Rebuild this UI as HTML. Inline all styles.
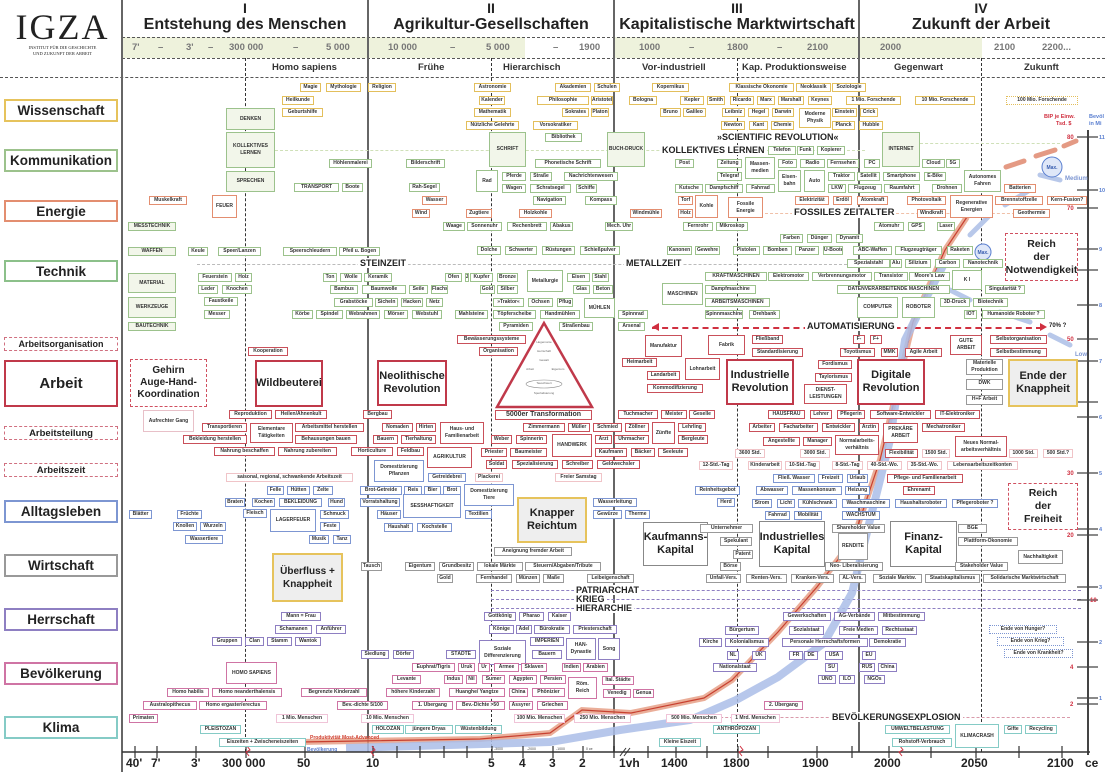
<!DOCTYPE html>
<html><head><meta charset="utf-8"><style>
*{margin:0;padding:0;box-sizing:border-box}
body{width:1105px;height:772px;position:relative;background:#fff;font-family:"Liberation Sans",sans-serif;overflow:hidden;color:#222}
.a{position:absolute}
.b{position:absolute;height:9px;line-height:7px;font-size:5px;font-weight:bold;border:1px solid #999;background:#fff;text-align:center;white-space:nowrap;overflow:hidden;color:#333}
.m{height:auto;line-height:7px;display:flex;align-items:center;justify-content:center;white-space:normal}
.y{border-color:#e3bf5c}.g{border-color:#9cc28c}.o{border-color:#e38e70}.r{border-color:#c9505a}.u{border-color:#7d96d2}.k{border-color:#999}.p{border-color:#8e7fc2}.n{border-color:#cf74a4}.t{border-color:#85cbc6}
.G{background:#f2f6ea}
.L{position:absolute;left:4px;width:114px;border:2px solid;text-align:center;font-weight:bold;font-size:13.5px;background:#fff;display:flex;align-items:center;justify-content:center}
.B{position:absolute;border:2.5px solid #c0394a;background:#fff;font-weight:bold;font-size:11px;text-align:center;display:flex;align-items:center;justify-content:center;line-height:13px}
.Y{border-color:#e6c35c;background:#eee}
.K{border-color:#888;}
.D{border:1.5px dashed #d05060}
.vs{position:absolute;width:2px;background:#666}
.vd{position:absolute;width:0;border-left:1.5px dashed #333}
.hd{position:absolute;height:0;border-top:1.5px dashed #555}
.T{position:absolute;font-weight:bold;text-align:center;white-space:nowrap}
.ax{position:absolute;top:756px;font-size:12px;font-weight:bold}
</style></head><body>

<div class="a" style="left:122px;top:37px;width:403px;height:21px;background:#eef2dc"></div>
<div class="a" style="left:614px;top:37px;width:368px;height:21px;background:#eef2dc"></div>
<div class="hd" style="left:122px;top:37px;width:983px"></div>
<div class="hd" style="left:122px;top:58px;width:983px"></div>
<div class="hd" style="left:0;top:77px;width:1105px"></div>

<div class="T" style="left:10px;top:8px;width:105px;font-family:'Liberation Serif',serif;font-weight:normal;font-size:36px;letter-spacing:2px;line-height:38px">IGZA</div>
<div class="T" style="left:10px;top:45px;width:105px;font-family:'Liberation Serif',serif;font-weight:normal;font-size:4.5px;line-height:6px">INSTITUT FÜR DIE GESCHICHTE<br>UND ZUKUNFT DER ARBEIT</div>

<div class="T" style="left:145px;top:0;width:200px;font-size:14px">I</div>
<div class="T" style="left:125px;top:16px;width:240px;font-size:16px">Entstehung des Menschen</div>
<div class="T" style="left:391px;top:0;width:200px;font-size:14px">II</div>
<div class="T" style="left:371px;top:16px;width:240px;font-size:16px">Agrikultur-Gesellschaften</div>
<div class="T" style="left:637px;top:0;width:200px;font-size:14px">III</div>
<div class="T" style="left:612px;top:16px;width:250px;font-size:16px">Kapitalistische Marktwirtschaft</div>
<div class="T" style="left:881px;top:0;width:200px;font-size:14px">IV</div>
<div class="T" style="left:861px;top:16px;width:240px;font-size:16px">Zukunft der Arbeit</div>

<div class="a" style="top:42px;left:0;width:1105px;font-size:9.5px;color:#777;font-weight:bold">
<span class="a" style="left:132px">7'</span><span class="a" style="left:158px">–</span><span class="a" style="left:186px">3'</span><span class="a" style="left:208px">–</span><span class="a" style="left:229px">300 000</span><span class="a" style="left:293px">–</span><span class="a" style="left:326px">5 000</span><span class="a" style="left:388px">10 000</span><span class="a" style="left:450px">–</span><span class="a" style="left:486px">5 000</span><span class="a" style="left:553px">–</span><span class="a" style="left:579px">1900</span><span class="a" style="left:639px">1000</span><span class="a" style="left:689px">–</span><span class="a" style="left:727px">1800</span><span class="a" style="left:777px">–</span><span class="a" style="left:807px">2100</span><span class="a" style="left:880px">2000</span><span class="a" style="left:994px">2100</span><span class="a" style="left:1042px">2200...</span></div>
<div class="a" style="top:62px;left:0;width:1105px;font-size:9.5px;font-weight:bold;color:#333">
<span class="a" style="left:272px">Homo sapiens</span><span class="a" style="left:418px">Frühe</span><span class="a" style="left:503px">Hierarchisch</span><span class="a" style="left:642px">Vor-industriell</span><span class="a" style="left:742px">Kap. Produktionsweise</span><span class="a" style="left:894px">Gegenwart</span><span class="a" style="left:1024px">Zukunft</span></div>

<div class="vs" style="left:121px;top:0;height:772px"></div>
<div class="vs" style="left:367px;top:0;height:752px"></div>
<div class="vs" style="left:613px;top:0;height:752px"></div>
<div class="vs" style="left:858px;top:0;height:752px"></div>
<div class="vd" style="left:245px;top:58px;height:694px"></div>
<div class="vd" style="left:491px;top:58px;height:694px"></div>
<div class="vd" style="left:737px;top:58px;height:694px"></div>
<div class="vd" style="left:981px;top:58px;height:694px"></div>
<div class="a" style="left:1087px;top:130px;width:2px;height:625px;background:#444"></div>

<div class="L" style="top:99px;height:23px;border-color:#e6c35c">Wissenschaft</div>
<div class="L" style="top:149px;height:23px;border-color:#9cc28c">Kommunikation</div>
<div class="L" style="top:200px;height:22px;border-color:#e38e70">Energie</div>
<div class="L" style="top:260px;height:22px;border-color:#8cc08a">Technik</div>
<div class="L" style="top:337px;height:14px;border:1px dashed #d07080;font-size:9px">Arbeitsorganisation</div>
<div class="L" style="top:360px;height:47px;border-color:#c0394a;font-size:15px">Arbeit</div>
<div class="L" style="top:426px;height:14px;border:1px dashed #d07080;font-size:9.5px">Arbeitsteilung</div>
<div class="L" style="top:463px;height:14px;border:1px dashed #d07080;font-size:9.5px">Arbeitszeit</div>
<div class="L" style="top:500px;height:23px;border-color:#7d96d2">Alltagsleben</div>
<div class="L" style="top:554px;height:23px;border-color:#999">Wirtschaft</div>
<div class="L" style="top:608px;height:23px;border-color:#8e7fc2">Herrschaft</div>
<div class="L" style="top:662px;height:23px;border-color:#cf74a4">Bevölkerung</div>
<div class="L" style="top:716px;height:23px;border-color:#85cbc6">Klima</div>

<div class="hd" style="left:275px;top:150px;width:590px;border-color:#cfe0b8"></div>
<div class="hd" style="left:920px;top:143px;width:140px;border-color:#cfe0b8"></div>
<div class="hd" style="left:197px;top:264px;width:650px;border-color:#bbb"></div>
<div class="hd" style="left:765px;top:213px;width:250px;border-color:#f0c0a8"></div>
<div class="hd" style="left:652px;top:327px;width:390px;border-top:2px dashed #d03040"></div>
<div class="a" style="left:1040px;top:323px;width:0;height:0;border-left:7px solid #d03040;border-top:4px solid transparent;border-bottom:4px solid transparent"></div>
<div class="a" style="left:652px;top:323px;width:0;height:0;border-right:7px solid #d03040;border-top:4px solid transparent;border-bottom:4px solid transparent"></div>
<div class="hd" style="left:491px;top:590px;width:590px;border-color:#8e7fc2"></div>
<div class="hd" style="left:491px;top:599px;width:590px;border-color:#8e7fc2"></div>
<div class="hd" style="left:491px;top:608px;width:590px;border-color:#8e7fc2"></div>
<div class="hd" style="left:690px;top:717px;width:380px;border-color:#d99aaa"></div>

<div class="T" style="left:715px;top:132px;font-size:9px;background:#fff;padding:0 2px">»SCIENTIFIC REVOLUTION«</div>
<div class="T" style="left:660px;top:145px;font-size:9px;background:#fff;padding:0 2px">KOLLEKTIVES LERNEN</div>
<div class="T" style="left:792px;top:207px;font-size:9.5px;background:#fff;padding:0 2px">FOSSILES ZEITALTER</div>
<div class="T" style="left:358px;top:258px;font-size:9px;background:#fff;padding:0 2px">STEINZEIT</div>
<div class="T" style="left:624px;top:258px;font-size:9px;background:#fff;padding:0 2px">METALLZEIT</div>
<div class="T" style="left:805px;top:321px;font-size:9px;background:#fff;padding:0 2px">AUTOMATISIERUNG</div>
<div class="T" style="left:1049px;top:323px;font-size:6px">70% ?</div>
<div class="T" style="left:574px;top:585px;font-size:9px;background:#fff;padding:0 2px">PATRIARCHAT</div>
<div class="T" style="left:574px;top:594px;font-size:9px;background:#fff;padding:0 2px">KRIEG</div>
<div class="T" style="left:574px;top:603px;font-size:9px;background:#fff;padding:0 2px">HIERARCHIE</div>
<div class="T" style="left:830px;top:712px;font-size:9px;background:#fff;padding:0 2px">BEVÖLKERUNGSEXPLOSION</div>

<svg class="a" style="left:0;top:0" width="1105" height="772">
<path d="M300 742 L480 739 L550 733 L582 710 L631 713 L704 698 L732 680 L778 632 L817 587 L853 540 L880 460 L913 322 L945 250 L967 217" fill="none" stroke="#e59a80" stroke-width="6" opacity=".8"/>
<path d="M300 742 L480 739 L550 733 L582 710 L631 713 L704 698 L732 680 L778 632 L817 587 L853 540 L880 460 L913 322 L945 250 L967 217" fill="none" stroke="#c84030" stroke-width="1.2"/>
<path d="M346 748 L550 742 L620 730 L690 720 L736 700 L778 677 L824 643 L852 593 L870 520 L890 440 L905 340 L925 300 L945 262" fill="none" stroke="#aabde8" stroke-width="8" opacity=".85"/>
<path d="M1006 167 L1024 161 M1036 156 L1055 150 M1064 146 L1076 141" stroke="#e49a84" stroke-width="5" stroke-linecap="round"/>
<path d="M970 235 L990 215 M1005 205 L1030 190 M950 290 L970 300 M1000 312 L1030 322 M1050 335 L1070 345 M1040 175 L1060 180" stroke="#b8c8ea" stroke-width="5" stroke-linecap="round"/>
<circle cx="1052" cy="167" r="10" fill="#dfe7f8" stroke="#5a7fd0"/>
<text x="1052" y="169" font-size="5" font-weight="bold" fill="#3a5fb0" text-anchor="middle" font-family="Liberation Sans">Max.</text>
<circle cx="983" cy="252" r="8" fill="#dfe7f8" stroke="#5a7fd0"/>
<text x="983" y="254" font-size="5" font-weight="bold" fill="#3a5fb0" text-anchor="middle" font-family="Liberation Sans">Max.</text>
<text x="1065" y="180" font-size="6" font-weight="bold" fill="#7d96d2" font-family="Liberation Sans">Medium</text>
<text x="1075" y="356" font-size="6" font-weight="bold" fill="#7d96d2" font-family="Liberation Sans">Low</text>
<text x="1044" y="118" font-size="5.5" font-weight="bold" fill="#d03040" font-family="Liberation Sans">BIP je Einw.</text>
<text x="1056" y="125" font-size="5.5" font-weight="bold" fill="#d03040" font-family="Liberation Sans">Tsd. $</text>
<text x="1089" y="118" font-size="5.5" font-weight="bold" fill="#5a7fd0" font-family="Liberation Sans">Bevöl</text>
<text x="1089" y="125" font-size="5.5" font-weight="bold" fill="#5a7fd0" font-family="Liberation Sans">in Mi</text>
<text x="310" y="739" font-size="5" font-weight="bold" fill="#d04030" font-family="Liberation Sans">Produktivität Most-Advanced</text>
<text x="307" y="751" font-size="5" font-weight="bold" fill="#5a7fd0" font-family="Liberation Sans">Bevölkerung</text>
<polygon points="544,323 497,407 592,407" fill="#fff" stroke="#c0394a" stroke-width="2.5"/>
<g font-size="3" fill="#666" font-family="Liberation Sans" text-anchor="middle"><text x="544" y="343">Hegemonie</text><text x="544" y="352">Herrschaft</text><text x="544" y="361">Gewalt</text><text x="530" y="370">Arbeit</text><text x="558" y="370">Eigentum</text><text x="544" y="384">Tauschwert</text><text x="544" y="394">Spezialisierung</text></g>
<ellipse cx="544" cy="384" rx="18" ry="4" fill="none" stroke="#888" stroke-width=".6"/>
<g stroke="#444" stroke-width="1.2"><path d="M1077 137H1098M1077 190H1098M1077 208H1098M1077 249H1098M1077 270H1098M1077 305H1098M1077 339H1098M1077 361H1098M1077 402H1098M1077 417H1098M1077 473H1098M1077 529H1098M1077 535H1098M1077 587H1098M1077 600H1098M1077 642H1098M1077 667H1098M1077 698H1098M1077 704H1098"/></g>
<g font-size="6" font-weight="bold" font-family="Liberation Sans" fill="#d03040"><text x="1067" y="139">80</text><text x="1067" y="210">70</text><text x="1067" y="272">60</text><text x="1067" y="341">50</text><text x="1067" y="404">40</text><text x="1067" y="475">30</text><text x="1067" y="537">20</text><text x="1090" y="602">10</text><text x="1070" y="669">4</text><text x="1070" y="706">2</text></g>
<g font-size="5.5" font-weight="bold" font-family="Liberation Sans" fill="#5a7fd0"><text x="1099" y="139">11</text><text x="1099" y="192">10</text><text x="1099" y="251">9</text><text x="1099" y="307">8</text><text x="1099" y="363">7</text><text x="1099" y="419">6</text><text x="1099" y="475">5</text><text x="1099" y="531">4</text><text x="1099" y="589">3</text><text x="1099" y="644">2</text><text x="1099" y="700">1</text></g>
<path d="M122 752H1090" stroke="#333" stroke-width="1.5"/>
<g stroke="#333" stroke-width="1.2"><path d="M135 746V758M157 746V758M196 746V758M246 746V758M305 746V758M373 746V758M397 746V758M420 746V758M444 746V758M467 746V758M492 746V758M523 746V758M553 746V758M583 746V758M614 746V758M648 746V758M676 746V758M707 746V758M738 746V758M768 746V758M817 746V758M852 746V758M889 746V758M931 746V758M976 746V758M1019 746V758M1062 746V758"/></g>
<text x="494" y="750" font-size="3.5" font-family="Liberation Sans" fill="#444">-3000</text><text x="527" y="750" font-size="3.5" font-family="Liberation Sans" fill="#444">-2000</text><text x="556" y="750" font-size="3.5" font-family="Liberation Sans" fill="#444">-1000</text><text x="586" y="750" font-size="3.5" font-family="Liberation Sans" fill="#444">0 ce</text>
<path d="M620 756L626 748M624 756L630 748" stroke="#333"/>
<path d="M247 746l3 4-4 2 3 4M372 746l3 4-4 2 3 4M740 746l3 4-4 2 3 4M900 746l3 4-4 2 3 4" stroke="#d03040" fill="none"/>
</svg>
<div class="ax" style="left:126px">40'</div><div class="ax" style="left:151px">7'</div><div class="ax" style="left:191px">3'</div><div class="ax" style="left:222px">300 000</div><div class="ax" style="left:297px">50</div><div class="ax" style="left:366px">10</div><div class="ax" style="left:488px">5</div><div class="ax" style="left:519px">4</div><div class="ax" style="left:549px">3</div><div class="ax" style="left:579px">2</div><div class="ax" style="left:619px">1vh</div><div class="ax" style="left:661px">1400</div><div class="ax" style="left:723px">1800</div><div class="ax" style="left:802px">1900</div><div class="ax" style="left:874px">2000</div><div class="ax" style="left:961px">2050</div><div class="ax" style="left:1047px">2100</div><div class="ax" style="left:1085px">ce</div>

<div class="B D" style="left:130px;top:359px;width:77px;height:48px;font-size:10px;line-height:12px">Gehirn<br>Auge-Hand-<br>Koordination</div>
<div class="B" style="left:255px;top:360px;width:68px;height:47px">Wildbeuterei</div>
<div class="B" style="left:377px;top:360px;width:70px;height:46px">Neolithische<br>Revolution</div>
<div class="B" style="left:726px;top:359px;width:68px;height:46px">Industrielle<br>Revolution</div>
<div class="B" style="left:857px;top:359px;width:68px;height:46px">Digitale<br>Revolution</div>
<div class="B Y" style="left:1008px;top:359px;width:70px;height:48px">Ende der<br>Knappheit</div>
<div class="B Y" style="left:517px;top:497px;width:70px;height:46px">Knapper<br>Reichtum</div>
<div class="B Y" style="left:272px;top:553px;width:71px;height:49px;font-size:10px">Überfluss +<br>Knappheit</div>
<div class="B D" style="left:1005px;top:233px;width:73px;height:48px;font-size:10.5px">Reich<br>der<br>Notwendigkeit</div>
<div class="B D" style="left:1008px;top:483px;width:70px;height:47px;font-size:10.5px">Reich<br>der<br>Freiheit</div>
<div class="B K" style="left:643px;top:522px;width:65px;height:44px;border-width:1.5px">Kaufmanns-<br>Kapital</div>
<div class="B K" style="left:759px;top:521px;width:66px;height:46px;border-width:1.5px">Industrielles<br>Kapital</div>
<div class="B K" style="left:890px;top:521px;width:67px;height:46px;border-width:1.5px">Finanz-<br>Kapital</div>
<div class="b r" style="left:495px;top:410px;width:97px;height:10px;font-size:7px">5000er Transformation</div>

<div class="b y" style="left:300px;top:83px;width:21px">Magie</div>
<div class="b y" style="left:326px;top:83px;width:35px">Mythologie</div>
<div class="b y" style="left:368px;top:83px;width:28px">Religion</div>
<div class="b y" style="left:282px;top:96px;width:32px">Heilkunde</div>
<div class="b y" style="left:282px;top:108px;width:41px">Geburtshilfe</div>
<div class="b y" style="left:474px;top:83px;width:37px">Astronomie</div>
<div class="b y" style="left:479px;top:96px;width:26px">Kalender</div>
<div class="b y" style="left:474px;top:108px;width:37px">Mathematik</div>
<div class="b y" style="left:466px;top:121px;width:53px">Nützliche Gelehrte</div>
<div class="b y" style="left:555px;top:83px;width:36px">Akademien</div>
<div class="b y" style="left:594px;top:83px;width:26px">Schulen</div>
<div class="b y" style="left:537px;top:96px;width:52px">Philosophie</div>
<div class="b y" style="left:591px;top:96px;width:22px">Aristoteles</div>
<div class="b y" style="left:562px;top:108px;width:27px">Sokrates</div>
<div class="b y" style="left:591px;top:108px;width:18px">Platon</div>
<div class="b y" style="left:533px;top:121px;width:45px">Vorsokratiker</div>
<div class="b g" style="left:545px;top:133px;width:37px">Bibliothek</div>
<div class="b y" style="left:652px;top:83px;width:37px">Kopernikus</div>
<div class="b y" style="left:729px;top:83px;width:65px">Klassische Ökonomie</div>
<div class="b y" style="left:796px;top:83px;width:35px">Neoklassik</div>
<div class="b y" style="left:832px;top:83px;width:34px">Soziologie</div>
<div class="b y" style="left:629px;top:96px;width:28px">Bologna</div>
<div class="b y" style="left:680px;top:96px;width:24px">Kepler</div>
<div class="b y" style="left:707px;top:96px;width:18px">Smith</div>
<div class="b y" style="left:730px;top:96px;width:24px">Ricardo</div>
<div class="b y" style="left:757px;top:96px;width:18px">Marx</div>
<div class="b y" style="left:778px;top:96px;width:26px">Marshall</div>
<div class="b y" style="left:808px;top:96px;width:24px">Keynes</div>
<div class="b y" style="left:846px;top:96px;width:55px">1 Mio. Forschende</div>
<div class="b y" style="left:915px;top:96px;width:60px">10 Mio. Forschende</div>
<div class="b y" style="left:1006px;top:96px;width:72px;border-style:dotted">100 Mio. Forschende</div>
<div class="b y" style="left:660px;top:108px;width:21px">Bruno</div>
<div class="b y" style="left:683px;top:108px;width:23px">Galileo</div>
<div class="b y" style="left:722px;top:108px;width:23px">Leibniz</div>
<div class="b y" style="left:748px;top:108px;width:21px">Hegel</div>
<div class="b y" style="left:772px;top:108px;width:22px">Darwin</div>
<div class="b y m" style="left:799px;top:108px;width:32px;height:20px">Moderne Physik</div>
<div class="b y" style="left:832px;top:108px;width:25px">Einstein</div>
<div class="b y" style="left:860px;top:108px;width:18px">Crick</div>
<div class="b y" style="left:721px;top:121px;width:24px">Newton</div>
<div class="b y" style="left:749px;top:121px;width:19px">Kant</div>
<div class="b y" style="left:771px;top:121px;width:23px">Chemie</div>
<div class="b y" style="left:832px;top:121px;width:23px">Planck</div>
<div class="b y" style="left:859px;top:121px;width:24px">Hubble</div>

<div class="b g G m" style="left:226px;top:108px;width:49px;height:22px">DENKEN</div>
<div class="b g G m" style="left:226px;top:132px;width:49px;height:36px">KOLLEKTIVES LERNEN</div>
<div class="b g G m" style="left:226px;top:171px;width:49px;height:21px">SPRECHEN</div>
<div class="b g" style="left:329px;top:159px;width:43px">Höhlenmalerei</div>
<div class="b g" style="left:406px;top:159px;width:39px">Bilderschrift</div>
<div class="b g" style="left:294px;top:183px;width:45px">TRANSPORT</div>
<div class="b g" style="left:342px;top:183px;width:21px">Boote</div>
<div class="b g" style="left:409px;top:183px;width:31px">Rah-Segel</div>
<div class="b g G m" style="left:489px;top:132px;width:37px;height:35px">SCHRIFT</div>
<div class="b g m" style="left:476px;top:170px;width:22px;height:22px">Rad</div>
<div class="b g" style="left:502px;top:172px;width:24px">Pferde</div>
<div class="b g" style="left:502px;top:184px;width:24px">Wagen</div>
<div class="b g" style="left:530px;top:172px;width:22px">Straße</div>
<div class="b g" style="left:530px;top:184px;width:41px">Schratsegel</div>
<div class="b g" style="left:576px;top:184px;width:21px">Schiffe</div>
<div class="b g" style="left:535px;top:159px;width:66px">Phonetische Schrift</div>
<div class="b g" style="left:564px;top:172px;width:54px">Nachrichtenwesen</div>
<div class="b g G m" style="left:607px;top:132px;width:38px;height:35px">BUCH-DRUCK</div>
<div class="b g" style="left:768px;top:146px;width:28px">Telefon</div>
<div class="b g" style="left:797px;top:146px;width:17px">Funk</div>
<div class="b g" style="left:817px;top:146px;width:28px">Kopierer</div>
<div class="b g G m" style="left:882px;top:132px;width:38px;height:35px">INTERNET</div>
<div class="b g" style="left:675px;top:159px;width:19px">Post</div>
<div class="b g" style="left:717px;top:159px;width:25px">Zeitung</div>
<div class="b g m" style="left:745px;top:157px;width:30px;height:22px">Massen-medien</div>
<div class="b g" style="left:717px;top:172px;width:25px">Telegraf</div>
<div class="b g" style="left:778px;top:159px;width:19px">Foto</div>
<div class="b g" style="left:800px;top:159px;width:25px">Radio</div>
<div class="b g" style="left:827px;top:159px;width:32px">Fernsehen</div>
<div class="b g" style="left:864px;top:159px;width:16px">PC</div>
<div class="b g" style="left:922px;top:159px;width:23px">Cloud</div>
<div class="b g" style="left:946px;top:159px;width:14px">5G</div>
<div class="b g m" style="left:778px;top:170px;width:23px;height:22px">Eisen-bahn</div>
<div class="b g m" style="left:804px;top:170px;width:21px;height:22px">Auto</div>
<div class="b g" style="left:828px;top:172px;width:27px">Traktor</div>
<div class="b g" style="left:857px;top:172px;width:23px">Satellit</div>
<div class="b g" style="left:883px;top:172px;width:37px">Smartphone</div>
<div class="b g" style="left:924px;top:172px;width:22px">E-Bike</div>
<div class="b g m" style="left:964px;top:170px;width:37px;height:22px">Autonomes Fahren</div>
<div class="b g" style="left:675px;top:184px;width:28px">Kutsche</div>
<div class="b g" style="left:705px;top:184px;width:38px">Dampfschiff</div>
<div class="b g" style="left:746px;top:184px;width:29px">Fahrrad</div>
<div class="b g" style="left:828px;top:184px;width:18px">LKW</div>
<div class="b g" style="left:848px;top:184px;width:34px">Flugzeug</div>
<div class="b g" style="left:884px;top:184px;width:36px">Raumfahrt</div>
<div class="b g" style="left:932px;top:184px;width:30px">Drohnen</div>
<div class="b o" style="left:1004px;top:184px;width:32px">Batterien</div>

<div class="b o" style="left:149px;top:196px;width:38px">Muskelkraft</div>
<div class="b o m" style="left:212px;top:195px;width:25px;height:23px">FEUER</div>
<div class="b o" style="left:422px;top:196px;width:25px">Wasser</div>
<div class="b o" style="left:412px;top:209px;width:18px">Wind</div>
<div class="b o" style="left:466px;top:209px;width:26px">Zugtiere</div>
<div class="b o" style="left:519px;top:209px;width:33px">Holzkohle</div>
<div class="b g" style="left:533px;top:196px;width:33px">Navigation</div>
<div class="b g" style="left:585px;top:196px;width:32px">Kompass</div>
<div class="b o" style="left:630px;top:209px;width:32px">Windmühle</div>
<div class="b o" style="left:678px;top:196px;width:15px">Torf</div>
<div class="b o" style="left:678px;top:209px;width:15px">Holz</div>
<div class="b o m" style="left:695px;top:195px;width:23px;height:23px">Kohle</div>
<div class="b o m" style="left:728px;top:197px;width:35px;height:21px">Fossile Energie</div>
<div class="b o" style="left:795px;top:196px;width:34px">Elektrizität</div>
<div class="b o" style="left:833px;top:196px;width:19px">Erdöl</div>
<div class="b o" style="left:857px;top:196px;width:31px">Atomkraft</div>
<div class="b o" style="left:907px;top:196px;width:39px">Photovoltaik</div>
<div class="b o" style="left:917px;top:209px;width:29px">Windkraft</div>
<div class="b o m" style="left:950px;top:195px;width:43px;height:23px">Regenerative Energien</div>
<div class="b o" style="left:995px;top:196px;width:48px">Brennstoffzelle</div>
<div class="b o" style="left:1047px;top:196px;width:40px">Kern-Fusion?</div>
<div class="b o" style="left:1013px;top:209px;width:37px">Geothermie</div>
<div class="b g G" style="left:128px;top:222px;width:48px">MESSTECHNIK</div>
<div class="b g" style="left:443px;top:222px;width:22px">Waage</div>
<div class="b g" style="left:467px;top:222px;width:35px">Sonnenuhr</div>
<div class="b g" style="left:507px;top:222px;width:40px">Rechenbrett</div>
<div class="b g" style="left:550px;top:222px;width:23px">Abakus</div>
<div class="b g" style="left:605px;top:222px;width:28px">Mech. Uhr</div>
<div class="b g" style="left:683px;top:222px;width:30px">Fernrohr</div>
<div class="b g" style="left:716px;top:222px;width:32px">Mikroskop</div>
<div class="b g" style="left:874px;top:222px;width:30px">Atomuhr</div>
<div class="b g" style="left:908px;top:222px;width:17px">GPS</div>
<div class="b g" style="left:937px;top:222px;width:18px">Laser</div>

<div class="b g G" style="left:128px;top:247px;width:48px">WAFFEN</div>
<div class="b g" style="left:188px;top:247px;width:20px">Keule</div>
<div class="b g" style="left:218px;top:247px;width:43px">Speer/Lanzen</div>
<div class="b g" style="left:283px;top:247px;width:54px">Speerschleudern</div>
<div class="b g" style="left:339px;top:247px;width:41px">Pfeil u. Bogen</div>
<div class="b g" style="left:477px;top:246px;width:24px">Dolche</div>
<div class="b g" style="left:505px;top:246px;width:32px">Schwerter</div>
<div class="b g" style="left:542px;top:246px;width:33px">Rüstungen</div>
<div class="b g" style="left:580px;top:246px;width:40px">Schießpulver</div>
<div class="b g" style="left:667px;top:246px;width:25px">Kanonen</div>
<div class="b g" style="left:695px;top:246px;width:25px">Gewehre</div>
<div class="b g" style="left:733px;top:246px;width:27px">Pistolen</div>
<div class="b g" style="left:763px;top:246px;width:29px">Bomben</div>
<div class="b g" style="left:795px;top:246px;width:24px">Panzer</div>
<div class="b g" style="left:823px;top:246px;width:20px">U-Boote</div>
<div class="b g" style="left:853px;top:246px;width:39px">ABC-Waffen</div>
<div class="b g" style="left:895px;top:246px;width:47px">Flugzeugträger</div>
<div class="b g" style="left:947px;top:246px;width:26px">Raketen</div>
<div class="b g" style="left:780px;top:234px;width:23px">Farben</div>
<div class="b g" style="left:807px;top:234px;width:25px">Dünger</div>
<div class="b g" style="left:836px;top:234px;width:27px">Dynamit</div>
<div class="b g" style="left:847px;top:259px;width:43px">Spezialstahl</div>
<div class="b g" style="left:890px;top:259px;width:12px">Alu</div>
<div class="b g" style="left:905px;top:259px;width:26px">Silizium</div>
<div class="b g" style="left:935px;top:259px;width:25px">Carbon</div>
<div class="b g" style="left:963px;top:259px;width:40px">Nanotechnik</div>
<div class="b g G m" style="left:128px;top:273px;width:48px;height:20px">MATERIAL</div>
<div class="b g G m" style="left:128px;top:297px;width:48px;height:21px">WERKZEUGE</div>
<div class="b g G" style="left:128px;top:322px;width:48px">BAUTECHNIK</div>
<div class="b g" style="left:198px;top:273px;width:34px">Feuerstein</div>
<div class="b g" style="left:235px;top:273px;width:17px">Holz</div>
<div class="b g" style="left:198px;top:285px;width:20px">Leder</div>
<div class="b g" style="left:222px;top:285px;width:30px">Knochen</div>
<div class="b g" style="left:204px;top:297px;width:34px">Faustkeile</div>
<div class="b g" style="left:204px;top:310px;width:26px">Messer</div>
<div class="b g" style="left:323px;top:273px;width:14px">Ton</div>
<div class="b g" style="left:340px;top:273px;width:22px">Wolle</div>
<div class="b g" style="left:364px;top:273px;width:28px">Keramik</div>
<div class="b g" style="left:445px;top:273px;width:17px">Öfen</div>
<div class="b g" style="left:465px;top:273px;width:4px">Ziegel</div>
<div class="b g" style="left:470px;top:273px;width:23px">Kupfer</div>
<div class="b g" style="left:497px;top:273px;width:21px">Bronze</div>
<div class="b g m" style="left:527px;top:270px;width:36px;height:22px">Metallurgie</div>
<div class="b g" style="left:567px;top:273px;width:23px">Eisen</div>
<div class="b g" style="left:592px;top:273px;width:17px">Stahl</div>
<div class="b g" style="left:330px;top:285px;width:28px">Bambus</div>
<div class="b g" style="left:362px;top:285px;width:44px">Baumwolle</div>
<div class="b g" style="left:409px;top:285px;width:19px">Seile</div>
<div class="b g" style="left:431px;top:285px;width:17px">Flachs</div>
<div class="b g" style="left:480px;top:285px;width:15px">Gold</div>
<div class="b g" style="left:497px;top:285px;width:21px">Silber</div>
<div class="b g" style="left:573px;top:285px;width:17px">Glas</div>
<div class="b g" style="left:593px;top:285px;width:20px">Beton</div>
<div class="b g" style="left:334px;top:298px;width:39px">Grabstöcke</div>
<div class="b g" style="left:375px;top:298px;width:23px">Sicheln</div>
<div class="b g" style="left:401px;top:298px;width:22px">Hacken</div>
<div class="b g" style="left:426px;top:298px;width:17px">Netz</div>
<div class="b g" style="left:493px;top:298px;width:31px">»Traktor«</div>
<div class="b g" style="left:528px;top:298px;width:25px">Ochsen</div>
<div class="b g" style="left:557px;top:298px;width:16px">Pflug</div>
<div class="b g m" style="left:584px;top:298px;width:31px;height:20px">MÜHLEN</div>
<div class="b g" style="left:292px;top:310px;width:21px">Körbe</div>
<div class="b g" style="left:316px;top:310px;width:27px">Spindel</div>
<div class="b g" style="left:346px;top:310px;width:34px">Webrahmen</div>
<div class="b g" style="left:384px;top:310px;width:24px">Mörser</div>
<div class="b g" style="left:412px;top:310px;width:30px">Webstuhl</div>
<div class="b g" style="left:455px;top:310px;width:33px">Mahlsteine</div>
<div class="b g" style="left:493px;top:310px;width:43px">Töpferscheibe</div>
<div class="b g" style="left:540px;top:310px;width:40px">Handmühlen</div>
<div class="b g" style="left:618px;top:310px;width:30px">Spinnrad</div>
<div class="b g" style="left:499px;top:322px;width:34px">Pyramiden</div>
<div class="b g" style="left:559px;top:322px;width:34px">Straßenbau</div>
<div class="b g" style="left:618px;top:322px;width:27px">Arsenal</div>
<div class="b g m" style="left:662px;top:283px;width:41px;height:22px">MASCHINEN</div>
<div class="b g" style="left:705px;top:272px;width:62px">KRAFTMASCHINEN</div>
<div class="b g" style="left:768px;top:272px;width:41px">Elektromotor</div>
<div class="b g" style="left:812px;top:272px;width:60px">Verbrennungsmotor</div>
<div class="b g" style="left:874px;top:272px;width:34px">Transistor</div>
<div class="b g" style="left:909px;top:272px;width:41px">Moore's Law</div>
<div class="b g m" style="left:952px;top:270px;width:30px;height:20px">K I</div>
<div class="b g" style="left:705px;top:285px;width:51px">Dampfmaschine</div>
<div class="b g" style="left:837px;top:285px;width:113px">DATENVERARBEITENDE MASCHINEN</div>
<div class="b g" style="left:985px;top:285px;width:40px">Singularität ?</div>
<div class="b g" style="left:705px;top:298px;width:65px">ARBEITSMASCHINEN</div>
<div class="b g m" style="left:857px;top:297px;width:41px;height:21px">COMPUTER</div>
<div class="b g m" style="left:902px;top:297px;width:33px;height:21px">ROBOTER</div>
<div class="b g" style="left:940px;top:298px;width:30px">3D-Druck</div>
<div class="b g" style="left:973px;top:298px;width:35px">Biotechnik</div>
<div class="b g" style="left:705px;top:310px;width:38px">Spinnmaschine</div>
<div class="b g" style="left:749px;top:310px;width:31px">Drehbank</div>
<div class="b g" style="left:964px;top:310px;width:13px">IOT</div>
<div class="b g" style="left:982px;top:310px;width:63px">Humanoide Roboter ?</div>

<div class="b r" style="left:457px;top:335px;width:69px">Bewässerungssysteme</div>
<div class="b r" style="left:479px;top:347px;width:39px">Organisation</div>
<div class="b r" style="left:248px;top:347px;width:40px">Kooperation</div>
<div class="b r m" style="left:645px;top:335px;width:37px;height:22px">Manufaktur</div>
<div class="b r m" style="left:708px;top:335px;width:37px;height:20px">Fabrik</div>
<div class="b r" style="left:752px;top:335px;width:31px">Fließband</div>
<div class="b r" style="left:752px;top:348px;width:51px">Standardisierung</div>
<div class="b r" style="left:853px;top:335px;width:12px">F-</div>
<div class="b r" style="left:870px;top:335px;width:12px">F+</div>
<div class="b r m" style="left:950px;top:335px;width:32px;height:20px">GUTE ARBEIT</div>
<div class="b r" style="left:990px;top:335px;width:57px">Selbstorganisation</div>
<div class="b r" style="left:840px;top:348px;width:35px">Toyotismus</div>
<div class="b r" style="left:881px;top:348px;width:17px">MMK</div>
<div class="b r" style="left:905px;top:348px;width:37px">Agile Arbeit</div>
<div class="b r" style="left:990px;top:348px;width:57px">Selbstbestimmung</div>
<div class="b r" style="left:622px;top:358px;width:35px">Heimarbeit</div>
<div class="b r m" style="left:685px;top:358px;width:35px;height:22px">Lohnarbeit</div>
<div class="b r" style="left:647px;top:371px;width:33px">Landarbeit</div>
<div class="b r" style="left:647px;top:384px;width:56px">Kommodifizierung</div>
<div class="b r" style="left:818px;top:360px;width:34px">Fordismus</div>
<div class="b r" style="left:815px;top:373px;width:37px">Taylorismus</div>
<div class="b r m" style="left:804px;top:384px;width:43px;height:20px">DIENST-LEISTUNGEN</div>
<div class="b k m" style="left:966px;top:359px;width:37px;height:16px">Materielle Produktion</div>
<div class="b k" style="left:966px;top:379px;width:37px;height:11px">DWK</div>
<div class="b k" style="left:966px;top:395px;width:37px;height:10px">H+F Arbeit</div>
<div class="b r m" style="left:143px;top:410px;width:51px;height:22px;border-color:#e8c0c8">Aufrechter Gang</div>
<div class="b r" style="left:229px;top:410px;width:43px">Reproduktion</div>
<div class="b r" style="left:275px;top:410px;width:52px">Heilen/Ahnenkult</div>
<div class="b r" style="left:363px;top:410px;width:29px">Bergbau</div>
<div class="b r" style="left:618px;top:410px;width:40px">Tuchmacher</div>
<div class="b r" style="left:661px;top:410px;width:26px">Meister</div>
<div class="b r" style="left:689px;top:410px;width:26px">Geselle</div>
<div class="b r" style="left:768px;top:410px;width:37px">HAUSFRAU</div>
<div class="b r" style="left:810px;top:410px;width:22px">Lehrer</div>
<div class="b r" style="left:837px;top:410px;width:28px">Pflegerin</div>
<div class="b r" style="left:870px;top:410px;width:61px">Software-Entwickler</div>
<div class="b r" style="left:935px;top:410px;width:45px">IT-Elektroniker</div>
<div class="b r" style="left:202px;top:423px;width:45px">Transportieren</div>
<div class="b r m" style="left:250px;top:423px;width:43px;height:20px">Elementare Tätigkeiten</div>
<div class="b r" style="left:295px;top:423px;width:69px">Arbeitsmittel herstellen</div>
<div class="b r" style="left:382px;top:423px;width:31px">Nomaden</div>
<div class="b r" style="left:416px;top:423px;width:20px">Hirten</div>
<div class="b r m" style="left:440px;top:422px;width:44px;height:22px">Haus- und Familienarbeit</div>
<div class="b r" style="left:523px;top:423px;width:42px">Zimmermann</div>
<div class="b r" style="left:568px;top:423px;width:22px">Müller</div>
<div class="b r" style="left:593px;top:423px;width:29px">Schmied</div>
<div class="b r" style="left:625px;top:423px;width:24px">Zöllner</div>
<div class="b r m" style="left:652px;top:422px;width:23px;height:22px">Zünfte</div>
<div class="b r" style="left:678px;top:423px;width:28px">Lehrling</div>
<div class="b r" style="left:749px;top:423px;width:26px">Arbeiter</div>
<div class="b r" style="left:779px;top:423px;width:39px">Facharbeiter</div>
<div class="b r" style="left:822px;top:423px;width:33px">Entwickler</div>
<div class="b r" style="left:859px;top:423px;width:20px">Ärztin</div>
<div class="b r m" style="left:883px;top:423px;width:35px;height:20px">PREKÄRE ARBEIT</div>
<div class="b r" style="left:922px;top:423px;width:43px">Mechatroniker</div>
<div class="b r" style="left:183px;top:435px;width:64px">Bekleidung herstellen</div>
<div class="b r" style="left:295px;top:435px;width:62px">Behausungen bauen</div>
<div class="b r" style="left:373px;top:435px;width:25px">Bauern</div>
<div class="b r" style="left:401px;top:435px;width:35px">Tierhaltung</div>
<div class="b r" style="left:491px;top:435px;width:21px">Weber</div>
<div class="b r" style="left:516px;top:435px;width:31px">Spinnerin</div>
<div class="b r m" style="left:552px;top:434px;width:40px;height:23px">HANDWERK</div>
<div class="b r" style="left:595px;top:435px;width:17px">Arzt</div>
<div class="b r" style="left:614px;top:435px;width:35px">Uhrmacher</div>
<div class="b r" style="left:678px;top:435px;width:30px">Bergleute</div>
<div class="b r" style="left:763px;top:437px;width:37px">Angestellte</div>
<div class="b r" style="left:803px;top:437px;width:29px">Manager</div>
<div class="b r m" style="left:835px;top:435px;width:44px;height:20px">Normalarbeits-verhältnis</div>
<div class="b r m" style="left:955px;top:436px;width:52px;height:21px">Neues Normal-arbeitsverhältnis</div>
<div class="b r" style="left:214px;top:447px;width:61px">Nahrung beschaffen</div>
<div class="b r" style="left:278px;top:447px;width:59px">Nahrung zubereiten</div>
<div class="b r" style="left:351px;top:447px;width:42px">Horticulture</div>
<div class="b r" style="left:397px;top:447px;width:27px">Feldbau</div>
<div class="b r m" style="left:427px;top:447px;width:45px;height:21px">AGRIKULTUR</div>
<div class="b r" style="left:481px;top:448px;width:26px">Priester</div>
<div class="b r" style="left:510px;top:448px;width:37px">Baumeister</div>
<div class="b r" style="left:595px;top:448px;width:32px">Kaufmann</div>
<div class="b r" style="left:631px;top:448px;width:24px">Bäcker</div>
<div class="b r" style="left:658px;top:448px;width:30px">Seeleute</div>
<div class="b r" style="left:735px;top:449px;width:30px;border-color:#f0c4c8">3600 Std.</div>
<div class="b r" style="left:800px;top:449px;width:30px;border-color:#f0c4c8">3000 Std.</div>
<div class="b r" style="left:885px;top:449px;width:33px">Flexibilität</div>
<div class="b r" style="left:922px;top:449px;width:28px;border-color:#f0c4c8">1500 Std.</div>
<div class="b r" style="left:1009px;top:449px;width:29px;border-color:#f0c4c8">1000 Std.</div>
<div class="b r" style="left:1043px;top:449px;width:30px;border-color:#f0c4c8">500 Std.?</div>
<div class="b r" style="left:486px;top:460px;width:21px">Soldat</div>
<div class="b r" style="left:512px;top:460px;width:46px">Spezialisierung</div>
<div class="b r" style="left:562px;top:460px;width:31px">Schreiber</div>
<div class="b r" style="left:597px;top:460px;width:43px">Geldwechsler</div>
<div class="b r" style="left:699px;top:461px;width:34px;border-color:#f0c4c8">12-Std.-Tag</div>
<div class="b r" style="left:748px;top:461px;width:34px;border-color:#f0c4c8">Kinderarbeit</div>
<div class="b r" style="left:785px;top:461px;width:35px;border-color:#f0c4c8">10-Std.-Tag</div>
<div class="b r" style="left:832px;top:461px;width:31px;border-color:#f0c4c8">8-Std.-Tag</div>
<div class="b r" style="left:867px;top:461px;width:35px;border-color:#f0c4c8">40-Std.-Wo.</div>
<div class="b r" style="left:907px;top:461px;width:35px;border-color:#f0c4c8">35-Std.-Wo.</div>
<div class="b r" style="left:947px;top:461px;width:71px;border-color:#f0c4c8">Lebensarbeitszeitkonten</div>
<div class="b r" style="left:475px;top:473px;width:28px;border-color:#f0c4c8">Plackerei</div>
<div class="b r" style="left:555px;top:473px;width:47px;border-color:#f0c4c8">Freier Samstag</div>
<div class="b r" style="left:226px;top:473px;width:127px;border-color:#f0c4c8">saisonal, regional, schwankende Arbeitszeit</div>
<div class="b r" style="left:887px;top:474px;width:76px">Pflege- und Familienarbeit</div>
<div class="b r" style="left:903px;top:486px;width:32px">Ehrenamt</div>

<div class="b u m" style="left:374px;top:460px;width:50px;height:22px">Domestizierung Pflanzen</div>
<div class="b u" style="left:428px;top:473px;width:38px">Getreidebrei</div>
<div class="b u" style="left:267px;top:486px;width:17px">Felle</div>
<div class="b u" style="left:287px;top:486px;width:23px">Hütten</div>
<div class="b u" style="left:313px;top:486px;width:20px">Zelte</div>
<div class="b u" style="left:360px;top:486px;width:42px">Brot-Getreide</div>
<div class="b u" style="left:404px;top:486px;width:18px">Reis</div>
<div class="b u" style="left:424px;top:486px;width:17px">Bier</div>
<div class="b u" style="left:443px;top:486px;width:18px">Brot</div>
<div class="b u m" style="left:464px;top:484px;width:50px;height:22px">Domestizierung Tiere</div>
<div class="b u" style="left:695px;top:486px;width:45px">Reinheitsgebot</div>
<div class="b u" style="left:756px;top:486px;width:32px">Abwasser</div>
<div class="b u" style="left:792px;top:486px;width:50px">Massenkonsum</div>
<div class="b u" style="left:845px;top:486px;width:25px">Heizung</div>
<div class="b u" style="left:773px;top:474px;width:42px">Fließ. Wasser</div>
<div class="b u" style="left:818px;top:474px;width:25px">Freizeit</div>
<div class="b u" style="left:847px;top:474px;width:21px">Urlaub</div>
<div class="b u" style="left:225px;top:498px;width:20px">Braten</div>
<div class="b u" style="left:252px;top:498px;width:23px">Kochen</div>
<div class="b u" style="left:279px;top:498px;width:43px">BEKLEIDUNG</div>
<div class="b u" style="left:328px;top:498px;width:17px">Hund</div>
<div class="b u" style="left:360px;top:498px;width:40px">Vorratshaltung</div>
<div class="b u m" style="left:403px;top:494px;width:58px;height:24px">SESSHAFTIGKEIT</div>
<div class="b u" style="left:593px;top:498px;width:44px">Wasserleitung</div>
<div class="b u" style="left:717px;top:498px;width:18px">Herd</div>
<div class="b u" style="left:752px;top:499px;width:20px">Strom</div>
<div class="b u" style="left:777px;top:499px;width:18px">Licht</div>
<div class="b u" style="left:798px;top:499px;width:39px">Kühlschrank</div>
<div class="b u" style="left:842px;top:499px;width:48px">Waschmaschine</div>
<div class="b u" style="left:895px;top:499px;width:52px">Haushaltsroboter</div>
<div class="b u" style="left:952px;top:499px;width:46px">Pflegeroboter ?</div>
<div class="b u" style="left:129px;top:510px;width:23px">Blätter</div>
<div class="b u" style="left:177px;top:510px;width:25px">Früchte</div>
<div class="b u" style="left:243px;top:509px;width:24px">Fleisch</div>
<div class="b u m" style="left:270px;top:509px;width:46px;height:23px">LAGERFEUER</div>
<div class="b u" style="left:320px;top:510px;width:29px">Schmuck</div>
<div class="b u" style="left:377px;top:510px;width:24px">Häuser</div>
<div class="b u" style="left:465px;top:510px;width:27px">Textilien</div>
<div class="b u" style="left:593px;top:510px;width:29px">Gewürze</div>
<div class="b u" style="left:625px;top:510px;width:25px">Therme</div>
<div class="b u" style="left:765px;top:511px;width:25px">Fahrrad</div>
<div class="b u" style="left:794px;top:511px;width:28px">Mobilität</div>
<div class="b u" style="left:842px;top:511px;width:38px">WACHSTUM</div>
<div class="b u" style="left:173px;top:522px;width:24px">Knollen</div>
<div class="b u" style="left:200px;top:522px;width:26px">Wurzeln</div>
<div class="b u" style="left:320px;top:522px;width:20px">Feste</div>
<div class="b u" style="left:384px;top:523px;width:29px">Haushalt</div>
<div class="b u" style="left:417px;top:523px;width:35px">Kochstelle</div>
<div class="b u" style="left:185px;top:535px;width:38px">Wassertiere</div>
<div class="b u" style="left:309px;top:535px;width:20px">Musik</div>
<div class="b u" style="left:333px;top:535px;width:18px">Tanz</div>

<div class="b k" style="left:700px;top:524px;width:53px">Unternehmer</div>
<div class="b k" style="left:832px;top:524px;width:53px">Shareholder Value</div>
<div class="b k" style="left:958px;top:524px;width:29px">BGE</div>
<div class="b k m" style="left:838px;top:533px;width:30px;height:27px">RENDITE</div>
<div class="b k" style="left:720px;top:537px;width:32px">Spekulant</div>
<div class="b k" style="left:958px;top:537px;width:60px">Plattform-Ökonomie</div>
<div class="b k" style="left:494px;top:547px;width:78px">Aneignung fremder Arbeit</div>
<div class="b k" style="left:733px;top:550px;width:20px">Patent</div>
<div class="b k m" style="left:1018px;top:550px;width:45px;height:14px">Nachhaltigkeit</div>
<div class="b k" style="left:361px;top:562px;width:21px">Tausch</div>
<div class="b k" style="left:405px;top:562px;width:30px">Eigentum</div>
<div class="b k" style="left:439px;top:562px;width:35px">Grundbesitz</div>
<div class="b k" style="left:477px;top:562px;width:46px">lokale Märkte</div>
<div class="b k" style="left:525px;top:562px;width:76px">Steuern/Abgaben/Tribute</div>
<div class="b k" style="left:720px;top:562px;width:21px">Börse</div>
<div class="b k" style="left:825px;top:562px;width:58px">Neo- Liberalisierung</div>
<div class="b k" style="left:955px;top:562px;width:53px">Stakeholder Value</div>
<div class="b k" style="left:437px;top:574px;width:16px">Gold</div>
<div class="b k" style="left:476px;top:574px;width:36px">Fernhandel</div>
<div class="b k" style="left:516px;top:574px;width:24px">Münzen</div>
<div class="b k" style="left:543px;top:574px;width:21px">Maße</div>
<div class="b k" style="left:587px;top:574px;width:47px">Leibeigenschaft</div>
<div class="b k" style="left:706px;top:574px;width:35px">Unfall-Vers.</div>
<div class="b k" style="left:746px;top:574px;width:41px">Renten-Vers.</div>
<div class="b k" style="left:791px;top:574px;width:43px">Kranken-Vers.</div>
<div class="b k" style="left:839px;top:574px;width:27px">AL-Vers.</div>
<div class="b k" style="left:873px;top:574px;width:49px">Soziale Marktw.</div>
<div class="b k" style="left:925px;top:574px;width:55px">Staatskapitalismus</div>
<div class="b k" style="left:983px;top:574px;width:83px">Solidarische Marktwirtschaft</div>

<div class="b p" style="left:281px;top:612px;width:40px">Mann = Frau</div>
<div class="b p" style="left:484px;top:612px;width:32px">Gottkönig</div>
<div class="b p" style="left:519px;top:612px;width:25px">Pharao</div>
<div class="b p" style="left:548px;top:612px;width:23px">Kaiser</div>
<div class="b p" style="left:783px;top:612px;width:48px">Gewerkschaften</div>
<div class="b p" style="left:834px;top:612px;width:41px">AG-Verbände</div>
<div class="b p" style="left:878px;top:612px;width:47px">Mitbestimmung</div>
<div class="b u" style="left:989px;top:625px;width:68px;border-style:dotted">Ende von Hunger?</div>
<div class="b u" style="left:997px;top:637px;width:67px;border-style:dotted">Ende von Krieg?</div>
<div class="b u" style="left:1004px;top:649px;width:69px;border-style:dotted">Ende von Krankheit?</div>
<div class="b p" style="left:275px;top:625px;width:37px">Schamanen</div>
<div class="b p" style="left:316px;top:625px;width:30px">Anführer</div>
<div class="b p" style="left:489px;top:625px;width:25px">Könige</div>
<div class="b p" style="left:516px;top:625px;width:16px">Adel</div>
<div class="b p" style="left:534px;top:625px;width:36px">Bürokratie</div>
<div class="b p" style="left:573px;top:625px;width:44px">Priesterschaft</div>
<div class="b p" style="left:725px;top:626px;width:34px">Bürgertum</div>
<div class="b p" style="left:789px;top:626px;width:35px">Sozialstaat</div>
<div class="b p" style="left:839px;top:626px;width:39px">Freie Medien</div>
<div class="b p" style="left:882px;top:626px;width:35px">Rechtsstaat</div>
<div class="b p" style="left:212px;top:637px;width:30px">Gruppen</div>
<div class="b p" style="left:245px;top:637px;width:19px">Clan</div>
<div class="b p" style="left:267px;top:637px;width:25px">Stamm</div>
<div class="b p" style="left:295px;top:637px;width:26px">Wantok</div>
<div class="b p m" style="left:479px;top:640px;width:47px;height:25px">Soziale Differenzierung</div>
<div class="b p" style="left:530px;top:637px;width:34px">IMPERIEN</div>
<div class="b p m" style="left:566px;top:638px;width:30px;height:22px">HAN-Dynastie</div>
<div class="b p m" style="left:598px;top:638px;width:22px;height:22px">Song</div>
<div class="b p" style="left:699px;top:638px;width:23px">Kirche</div>
<div class="b p" style="left:725px;top:638px;width:44px">Kolonialismus</div>
<div class="b p" style="left:782px;top:638px;width:86px">Personale Herrschaftsformen</div>
<div class="b p" style="left:869px;top:638px;width:37px">Demokratie</div>
<div class="b p" style="left:361px;top:650px;width:28px">Siedlung</div>
<div class="b p" style="left:393px;top:650px;width:21px">Dörfer</div>
<div class="b p" style="left:446px;top:650px;width:30px">STÄDTE</div>
<div class="b p" style="left:532px;top:650px;width:30px">Bauern</div>
<div class="b p" style="left:727px;top:651px;width:12px">NL</div>
<div class="b p" style="left:752px;top:651px;width:14px">UK</div>
<div class="b p" style="left:789px;top:651px;width:14px">FR</div>
<div class="b p" style="left:804px;top:651px;width:14px">DE</div>
<div class="b p" style="left:825px;top:651px;width:18px">USA</div>
<div class="b p" style="left:862px;top:651px;width:14px">EU</div>

<div class="b n m" style="left:226px;top:662px;width:51px;height:22px">HOMO SAPIENS</div>
<div class="b n" style="left:412px;top:663px;width:43px">Euphrat/Tigris</div>
<div class="b n" style="left:458px;top:663px;width:17px">Uruk</div>
<div class="b n" style="left:478px;top:663px;width:12px">Ur</div>
<div class="b n" style="left:494px;top:663px;width:25px">Armee</div>
<div class="b n" style="left:521px;top:663px;width:26px">Sklaven</div>
<div class="b n" style="left:562px;top:663px;width:19px">Indien</div>
<div class="b n" style="left:583px;top:663px;width:25px">Arabien</div>
<div class="b p" style="left:713px;top:663px;width:44px">Nationalstaat</div>
<div class="b p" style="left:825px;top:663px;width:13px">SU</div>
<div class="b p" style="left:859px;top:663px;width:16px">RUS</div>
<div class="b p" style="left:878px;top:663px;width:19px">China</div>
<div class="b n" style="left:392px;top:675px;width:29px">Levante</div>
<div class="b n" style="left:444px;top:675px;width:19px">Indus</div>
<div class="b n" style="left:466px;top:675px;width:11px">Nil</div>
<div class="b n" style="left:482px;top:675px;width:23px">Sumer</div>
<div class="b n" style="left:509px;top:675px;width:28px">Ägypten</div>
<div class="b n" style="left:540px;top:675px;width:26px">Persien</div>
<div class="b n m" style="left:568px;top:677px;width:29px;height:22px">Röm. Reich</div>
<div class="b n" style="left:602px;top:676px;width:32px">Ital. Städte</div>
<div class="b p" style="left:818px;top:675px;width:18px">UNO</div>
<div class="b p" style="left:839px;top:675px;width:16px">ILO</div>
<div class="b p" style="left:864px;top:675px;width:21px">NGOs</div>
<div class="b n" style="left:167px;top:688px;width:42px">Homo habilis</div>
<div class="b n" style="left:212px;top:688px;width:70px">Homo neanderthalensis</div>
<div class="b n" style="left:301px;top:688px;width:66px">Begrenzte Kinderzahl</div>
<div class="b n" style="left:386px;top:688px;width:54px">höhere Kinderzahl</div>
<div class="b n" style="left:449px;top:688px;width:56px">Huanghe/ Yangtze</div>
<div class="b n" style="left:509px;top:688px;width:19px">China</div>
<div class="b n" style="left:532px;top:688px;width:33px">Phönizier</div>
<div class="b n" style="left:603px;top:689px;width:28px">Venedig</div>
<div class="b n" style="left:633px;top:689px;width:21px">Genua</div>
<div class="b n" style="left:143px;top:701px;width:54px">Australopithecus</div>
<div class="b n" style="left:199px;top:701px;width:68px">Homo ergaster/erectus</div>
<div class="b n" style="left:337px;top:701px;width:51px">Bev.-dichte 5/100</div>
<div class="b n" style="left:412px;top:701px;width:41px">1. Übergang</div>
<div class="b n" style="left:456px;top:701px;width:49px">Bev.-Dichte &gt;50</div>
<div class="b n" style="left:509px;top:701px;width:24px">Assyrer</div>
<div class="b n" style="left:537px;top:701px;width:31px">Griechen</div>
<div class="b n" style="left:764px;top:701px;width:39px">2. Übergang</div>
<div class="b n" style="left:129px;top:714px;width:29px">Primaten</div>
<div class="b n" style="left:276px;top:714px;width:52px;border-color:#f0c4d8">1 Mio. Menschen</div>
<div class="b n" style="left:361px;top:714px;width:53px;border-color:#f0c4d8">10 Mio. Menschen</div>
<div class="b n" style="left:514px;top:714px;width:51px;border-color:#f0c4d8">100 Mio. Menschen</div>
<div class="b n" style="left:574px;top:714px;width:57px;border-color:#f0c4d8">250 Mio. Menschen</div>
<div class="b n" style="left:666px;top:714px;width:56px;border-color:#f0c4d8">500 Mio. Menschen</div>
<div class="b n" style="left:731px;top:714px;width:49px;border-color:#f0c4d8">1 Mrd. Menschen</div>

<div class="b t" style="left:200px;top:725px;width:41px">PLEISTOZÄN</div>
<div class="b t" style="left:372px;top:725px;width:32px">HOLOZÄN</div>
<div class="b t" style="left:405px;top:725px;width:48px">jüngere Dryas</div>
<div class="b t" style="left:455px;top:725px;width:47px">Wüstenbildung</div>
<div class="b t" style="left:713px;top:725px;width:47px">ANTHROPOZÄN</div>
<div class="b t" style="left:885px;top:725px;width:65px">UMWELTBELASTUNG</div>
<div class="b t m" style="left:955px;top:724px;width:44px;height:24px">KLIMACRASH</div>
<div class="b t" style="left:1004px;top:725px;width:18px">Gifte</div>
<div class="b t" style="left:1025px;top:725px;width:32px">Recycling</div>
<div class="b t" style="left:219px;top:738px;width:87px">Eiszeiten + Zwischeneiszeiten</div>
<div class="b t" style="left:659px;top:738px;width:42px">Kleine Eiszeit</div>
<div class="b t" style="left:892px;top:738px;width:60px">Rohstoff-Verbrauch</div>

</body></html>
